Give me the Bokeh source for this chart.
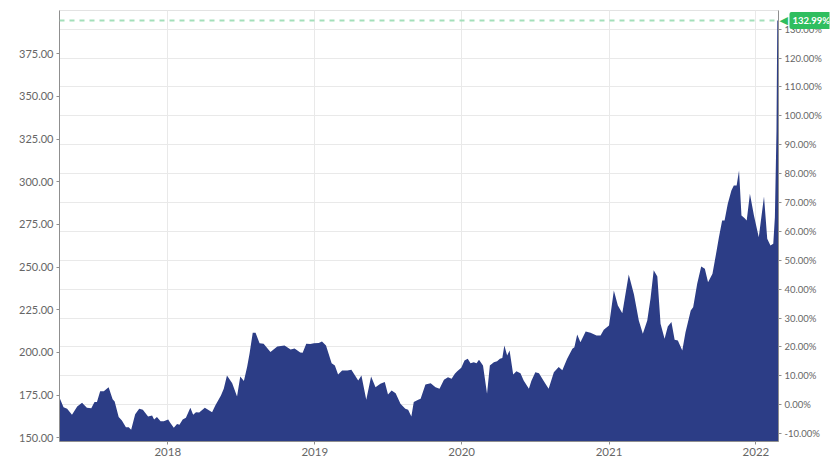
import pandas as pd
from bokeh.plotting import figure
from bokeh.layouts import column
from bokeh.models import (Range1d, LinearAxis, Span, Label, FixedTicker,
                          DatetimeTickFormatter, PrintfTickFormatter, NumeralTickFormatter)
from bokeh.embed import file_html
from bokeh.resources import INLINE

# ---------------- data ----------------
dates = [
    "2017-04-07", "2017-04-09", "2017-04-17", "2017-04-26", "2017-05-08", "2017-05-21",
    "2017-06-02", "2017-06-14", "2017-06-25", "2017-07-03", "2017-07-09", "2017-07-17",
    "2017-07-26", "2017-08-07", "2017-08-17", "2017-08-22", "2017-09-01", "2017-09-09",
    "2017-09-19", "2017-09-26", "2017-10-02", "2017-10-12", "2017-10-22", "2017-10-31",
    "2017-11-13", "2017-11-23", "2017-11-28", "2017-12-05", "2017-12-14", "2017-12-22",
    "2018-01-02", "2018-01-07", "2018-01-16", "2018-01-24", "2018-01-30", "2018-02-07",
    "2018-02-15", "2018-02-26", "2018-03-05", "2018-03-12", "2018-03-20", "2018-04-03",
    "2018-04-21", "2018-04-29", "2018-05-13", "2018-05-20", "2018-05-28", "2018-06-10",
    "2018-06-22", "2018-06-30", "2018-07-09", "2018-07-17", "2018-07-23", "2018-07-31",
    "2018-08-07", "2018-08-17", "2018-08-27", "2018-09-13", "2018-09-30", "2018-10-18",
    "2018-11-02", "2018-11-12", "2018-11-26", "2018-12-02", "2018-12-11", "2018-12-21",
    "2018-12-30", "2019-01-11", "2019-01-19", "2019-01-29", "2019-02-12", "2019-02-20",
    "2019-02-28", "2019-03-10", "2019-03-23", "2019-04-02", "2019-04-19", "2019-04-27",
    "2019-05-09", "2019-05-21", "2019-06-01", "2019-06-13", "2019-06-24", "2019-07-02",
    "2019-07-11", "2019-07-21", "2019-08-02", "2019-08-14", "2019-08-21", "2019-08-29",
    "2019-09-04", "2019-09-15", "2019-09-21", "2019-10-03", "2019-10-16", "2019-10-28",
    "2019-11-07", "2019-11-18", "2019-11-28", "2019-12-07", "2019-12-15", "2019-12-21",
    "2019-12-31", "2020-01-08", "2020-01-16", "2020-01-23", "2020-01-31", "2020-02-07",
    "2020-02-13", "2020-02-23", "2020-03-04", "2020-03-11", "2020-03-21", "2020-03-29",
    "2020-04-05", "2020-04-11", "2020-04-16", "2020-04-23", "2020-04-29", "2020-05-08",
    "2020-05-16", "2020-05-26", "2020-06-03", "2020-06-16", "2020-06-22", "2020-07-02",
    "2020-07-11", "2020-07-22", "2020-08-04", "2020-08-17", "2020-08-29", "2020-09-07",
    "2020-09-19", "2020-10-02", "2020-10-07", "2020-10-14", "2020-10-22", "2020-11-04",
    "2020-11-16", "2020-12-01", "2020-12-11", "2020-12-19", "2021-01-01", "2021-01-13",
    "2021-01-23", "2021-02-03", "2021-02-11", "2021-02-19", "2021-03-04", "2021-03-16",
    "2021-03-26", "2021-04-06", "2021-04-14", "2021-04-22", "2021-05-01", "2021-05-09",
    "2021-05-19", "2021-05-27", "2021-06-05", "2021-06-13", "2021-06-21", "2021-07-02",
    "2021-07-10", "2021-07-23", "2021-07-29", "2021-08-08", "2021-08-18", "2021-08-27",
    "2021-09-04", "2021-09-15", "2021-09-25", "2021-10-01", "2021-10-09", "2021-10-15",
    "2021-10-23", "2021-11-01", "2021-11-07", "2021-11-14", "2021-11-20", "2021-11-26",
    "2021-12-04", "2021-12-09", "2021-12-17", "2021-12-27", "2022-01-08", "2022-01-21",
    "2022-01-29", "2022-02-06", "2022-02-13", "2022-02-17", "2022-02-21", "2022-02-23",
    "2022-02-26",
]
prices = [
    173.5, 172.4, 167.9, 167.0, 163.5, 168.3,
    170.5, 167.6, 167.3, 170.9, 171.0, 177.3,
    177.3, 179.6, 172.6, 171.2, 162.1, 160.1,
    156.2, 156.2, 154.7, 163.7, 167.0, 166.4,
    162.5, 163.1, 160.7, 162.1, 159.7, 159.7,
    160.7, 158.8, 155.9, 158.0, 157.6, 160.7,
    161.7, 167.6, 163.5, 165.0, 164.8, 167.6,
    165.0, 168.9, 174.8, 178.7, 186.5, 182.0,
    174.2, 185.9, 183.2, 191.4, 199.2, 211.5,
    211.5, 205.4, 205.1, 200.2, 203.5, 204.1,
    201.7, 202.3, 200.0, 199.8, 205.1, 204.9,
    205.4, 205.5, 206.4, 204.1, 193.7, 192.4,
    187.1, 189.4, 189.4, 189.8, 183.6, 186.5,
    172.3, 185.9, 179.6, 181.6, 182.6, 175.4,
    177.7, 176.1, 169.9, 167.0, 166.4, 162.5,
    170.9, 172.3, 172.8, 181.2, 182.0, 179.6,
    178.7, 184.0, 185.5, 184.6, 187.5, 189.0,
    191.0, 195.3, 196.3, 193.7, 194.3, 193.7,
    195.7, 192.4, 175.8, 192.4, 194.3, 194.8,
    196.3, 196.8, 204.1, 198.2, 201.2, 187.1,
    189.0, 187.8, 183.6, 178.7, 183.2, 188.4,
    187.8, 183.6, 178.7, 188.4, 191.4, 189.6,
    196.3, 202.1, 203.0, 210.5, 206.0, 212.3,
    211.5, 209.9, 209.9, 213.3, 215.8, 236.3,
    227.5, 223.0, 234.4, 245.7, 234.0, 218.7,
    210.9, 218.7, 231.4, 248.1, 244.5, 216.8,
    208.0, 215.2, 217.9, 207.4, 207.0, 201.2,
    211.9, 224.6, 226.5, 240.2, 250.4, 249.0,
    241.2, 246.1, 259.3, 267.5, 277.3, 277.3,
    287.1, 294.9, 297.8, 297.8, 306.6, 280.3,
    278.7, 277.3, 293.0, 280.3, 267.5, 291.4,
    266.6, 262.7, 263.7, 279.3, 330.0, 394.5,
    394.5,
]
last_change_pct = 132.99
last_change_label = "132.99%"
price_ticks = [150, 175, 200, 225, 250, 275, 300, 325, 350, 375]
pct_ticks = [-10, 0, 10, 20, 30, 40, 50, 60, 70, 80, 90, 100, 110, 120, 130]
year_ticks = ["2018-01-01", "2019-01-01", "2020-01-01", "2021-01-01", "2022-01-01"]
x_start, x_end = "2017-04-07", "2022-02-26"
price_lo, price_hi = 147.8, 400.4

# ---------------- derived ----------------
base = prices[-1] / (1 + last_change_pct / 100.0)
pct_lo = (price_lo / base - 1) * 100
pct_hi = (price_hi / base - 1) * 100
x = pd.to_datetime(dates)
to_ms = lambda s: pd.Timestamp(s).timestamp() * 1000.0

FILL = "#2c3d86"
GREEN = "#2fbe5f"
AXIS = "#8f8f8f"
LABEL = "#666666"
GRID = "#e9e9e9"

W, H = 836, 470
BL, BR, BT, BB = 59, 58, 10, 29

p = figure(width=W, height=H, x_axis_type="datetime", y_axis_location="right",
           x_range=Range1d(to_ms(x_start), to_ms(x_end)),
           y_range=Range1d(pct_lo, pct_hi),
           output_backend="svg", toolbar_location=None,
           min_border_left=BL, min_border_right=BR, min_border_top=BT, min_border_bottom=BB)
p.extra_y_ranges = {"price": Range1d(price_lo, price_hi)}

p.background_fill_color = "white"
p.border_fill_color = "white"
p.outline_line_color = "#e3e3e3"

# right (percent) axis - default
pct_ticker = FixedTicker(ticks=pct_ticks)
right = p.yaxis[0]
right.ticker = pct_ticker
right.formatter = PrintfTickFormatter(format="%.2f%%")
p.ygrid.ticker = pct_ticker

# left (price) axis
left = LinearAxis(y_range_name="price", ticker=FixedTicker(ticks=price_ticks),
                  formatter=NumeralTickFormatter(format="0.00"))
p.add_layout(left, "left")

# x axis
year_ticker = FixedTicker(ticks=[to_ms(s) for s in year_ticks])
p.xaxis.ticker = year_ticker
p.xgrid.ticker = year_ticker
p.xaxis.formatter = DatetimeTickFormatter(years="%Y", months="%Y", days="%Y", hours="%Y")

for ax in [p.xaxis[0], right, left]:
    ax.axis_line_color = AXIS
    ax.axis_line_width = 1
    ax.major_tick_line_color = AXIS
    ax.major_tick_out = 3
    ax.major_tick_in = 0
    ax.minor_tick_line_color = None
    ax.major_label_text_color = LABEL
    ax.major_label_text_font = "Lato"
    ax.major_label_standoff = 3

left.major_label_text_font_size = "11px"
right.major_label_text_font_size = "9.5px"
p.xaxis.major_label_text_font_size = "11.5px"
p.xaxis.major_label_standoff = 3

p.xgrid.grid_line_color = GRID
p.ygrid.grid_line_color = GRID

# area
p.varea(x=x, y1=price_lo, y2=prices, y_range_name="price", fill_color=FILL, fill_alpha=1.0)

# dashed current level line
p.add_layout(Span(location=last_change_pct, dimension="width", line_color="#a3dfba",
                  line_width=2, line_dash="5 5"))

# value badge: transparent overlay figure sharing the percent range, laid over the right edge
q = figure(width=W - 770, height=H, x_range=Range1d(0, 1), y_range=p.y_range,
           x_axis_location=None, y_axis_location=None,
           output_backend="svg", toolbar_location=None,
           min_border_left=0, min_border_right=0, min_border_top=BT, min_border_bottom=BB,
           styles={"position": "absolute", "left": "770px", "top": "0px", "z-index": "5"})
q.grid.visible = False
q.outline_line_color = None
q.background_fill_color = None
q.border_fill_color = None
q.add_layout(Label(x=0, y=last_change_pct, text="\u25c0", x_offset=1,
                   text_align="left", text_baseline="middle", text_color=GREEN,
                   text_font="DejaVu Sans", text_font_size="11px"))
q.add_layout(Label(x=0, y=last_change_pct, text=last_change_label, x_offset=11,
                   text_align="left", text_baseline="middle", text_color="white",
                   text_font="Lato", text_font_size="9.5px", text_font_style="bold",
                   background_fill_color=GREEN, padding=3, border_radius=2))

layout = column(p, q, styles={"position": "relative"})
open("out.html", "w").write(file_html(layout, INLINE))
